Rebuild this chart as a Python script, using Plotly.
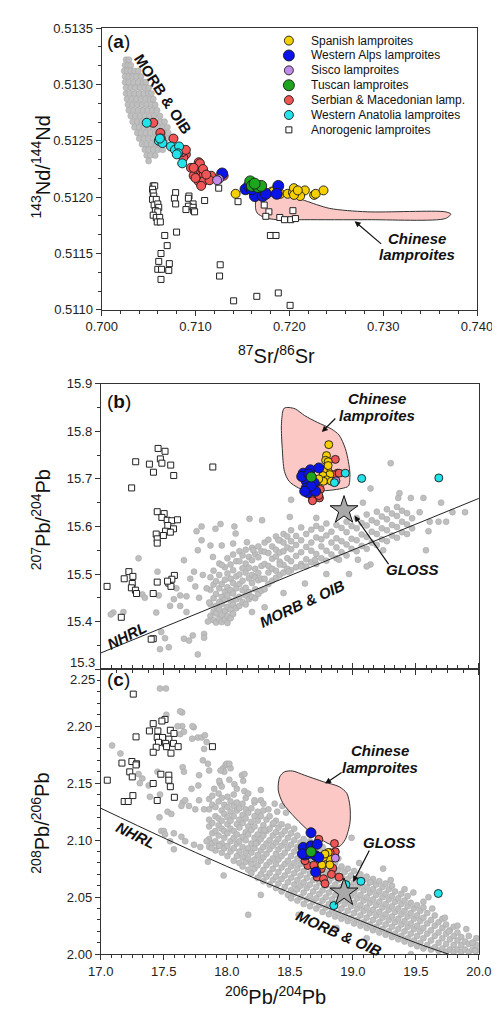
import plotly.graph_objects as go

W, H = 500, 1011
FONT = "Liberation Sans, Arial, sans-serif"

# ---------------- DATA ----------------
# Panel (a): 87Sr/86Sr vs 143Nd/144Nd
# MORB & OIB field (rows: y -> x values)
MORB_A_ROWS = [
    (0.51322, [0.7026, 0.7029]),
    (0.51317, [0.7025, 0.7028, 0.7031]),
    (0.51312, [0.7024, 0.7027, 0.7031, 0.7035, 0.7039]),
    (0.51307, [0.7025, 0.7029, 0.7033, 0.7037, 0.7042]),
    (0.51302, [0.7025, 0.7029, 0.7034, 0.7039, 0.7044, 0.7047]),
    (0.51297, [0.7026, 0.7031, 0.7036, 0.7041, 0.7046, 0.7050]),
    (0.51292, [0.7026, 0.7030, 0.7035, 0.7040, 0.7045, 0.7050, 0.7053]),
    (0.51287, [0.7027, 0.7032, 0.7037, 0.7042, 0.7047, 0.7052, 0.7055]),
    (0.51282, [0.7028, 0.7033, 0.7038, 0.7043, 0.7048, 0.7053, 0.7057]),
    (0.51277, [0.7029, 0.7034, 0.7039, 0.7044, 0.7049, 0.7054, 0.7059]),
    (0.51272, [0.7031, 0.7036, 0.7041, 0.7046, 0.7051, 0.7056, 0.7062]),
    (0.51267, [0.7033, 0.7038, 0.7043, 0.7048, 0.7053, 0.7058, 0.7063, 0.7067]),
    (0.51262, [0.7035, 0.7040, 0.7045, 0.7050, 0.7055, 0.7060, 0.7065, 0.7070]),
    (0.51257, [0.7038, 0.7042, 0.7047, 0.7052, 0.7057, 0.7062, 0.7067, 0.7071]),
    (0.51252, [0.7040, 0.7045, 0.7050, 0.7055, 0.7060, 0.7065, 0.7069]),
    (0.51247, [0.7043, 0.7048, 0.7053, 0.7058, 0.7063, 0.7067]),
    (0.51242, [0.7046, 0.7050, 0.7055, 0.7060, 0.7065]),
    (0.51237, [0.7048, 0.7052, 0.7057]),
    (0.51232, [0.7050]),
]
CHINA_A = [(0.71649, 0.51198), (0.71639, 0.51191), (0.71656, 0.51186), (0.71733, 0.51182),
           (0.71865, 0.51180), (0.72165, 0.51180), (0.72830, 0.51180), (0.73661, 0.51181),
           (0.73721, 0.51185), (0.73661, 0.51187), (0.72830, 0.51187), (0.72431, 0.51190),
           (0.72165, 0.51197), (0.72032, 0.51201), (0.71898, 0.51201), (0.71798, 0.51202),
           (0.71699, 0.51200), (0.71649, 0.51198)]
ANORO_A = [(0.70549, 0.51210), (0.70565, 0.51210), (0.70542, 0.51207), (0.70549, 0.51204),
           (0.70555, 0.51201), (0.70542, 0.51198), (0.70582, 0.51198), (0.70559, 0.51193),
           (0.70598, 0.51194), (0.70608, 0.51191), (0.70572, 0.51188), (0.70598, 0.51187),
           (0.70549, 0.51184), (0.70582, 0.51182), (0.70618, 0.51182), (0.70592, 0.51178),
           (0.70625, 0.51178), (0.70788, 0.51204), (0.70775, 0.51199), (0.70788, 0.51194),
           (0.70930, 0.51201), (0.70924, 0.51199), (0.70974, 0.51194), (0.70924, 0.51192),
           (0.70898, 0.51189), (0.70974, 0.51191), (0.70980, 0.51188), (0.70990, 0.51187),
           (0.71097, 0.51197), (0.71247, 0.51208), (0.71453, 0.51196), (0.70672, 0.51166),
           (0.70798, 0.51169), (0.70698, 0.51157), (0.70632, 0.51150), (0.70608, 0.51143),
           (0.70598, 0.51136), (0.70638, 0.51136), (0.70721, 0.51141), (0.70715, 0.51135),
           (0.70632, 0.51127), (0.71263, 0.51140), (0.71256, 0.51130), (0.71406, 0.51108),
           (0.71653, 0.51112), (0.71732, 0.51193), (0.71782, 0.51187), (0.71749, 0.51183),
           (0.71898, 0.51182), (0.71948, 0.51180), (0.72015, 0.51180), (0.72065, 0.51181),
           (0.72038, 0.51188), (0.71798, 0.51166), (0.71858, 0.51166), (0.71882, 0.51115),
           (0.72008, 0.51104)]
SPAIN_A = [(0.71427, 0.51203), (0.71815, 0.51205), (0.71905, 0.51203), (0.71982, 0.51203),
           (0.72038, 0.51204), (0.72048, 0.51208), (0.72115, 0.51204), (0.72165, 0.51206),
           (0.72115, 0.51201), (0.72264, 0.51202), (0.72281, 0.51203), (0.72364, 0.51206),
           (0.72050, 0.51202), (0.71830, 0.51205), (0.72090, 0.51206)]
WALPS_A = [(0.71284, 0.51221), (0.71533, 0.51207), (0.71570, 0.51210), (0.71633, 0.51201),
           (0.71716, 0.51201), (0.71750, 0.51203), (0.71882, 0.51210), (0.71866, 0.51203),
           (0.71600, 0.51207)]
SISCO_A = [(0.71250, 0.51216), (0.71230, 0.51215)]
TUSC_A = [(0.71583, 0.51214), (0.71600, 0.51210), (0.71666, 0.51209), (0.71700, 0.51210),
          (0.71630, 0.51212)]
SERB_A = [(0.70549, 0.51266), (0.70625, 0.51257), (0.70631, 0.51252), (0.70765, 0.51252),
          (0.70881, 0.51241), (0.70897, 0.51238), (0.70870, 0.51235), (0.70860, 0.51240),
          (0.70897, 0.51242), (0.70951, 0.51226), (0.71034, 0.51231), (0.71017, 0.51222),
          (0.71067, 0.51225), (0.71084, 0.51219), (0.70980, 0.51219), (0.71034, 0.51214),
          (0.71084, 0.51214), (0.71167, 0.51219), (0.71150, 0.51215), (0.71300, 0.51219),
          (0.71047, 0.51230), (0.70980, 0.51226), (0.71080, 0.51225), (0.71114, 0.51220),
          (0.71000, 0.51217), (0.71060, 0.51210)]
ANAT_A = [(0.70480, 0.51266), (0.70609, 0.51250), (0.70648, 0.51248), (0.70738, 0.51245),
          (0.70781, 0.51242), (0.70825, 0.51245), (0.70815, 0.51239), (0.70858, 0.51230),
          (0.70800, 0.51238), (0.70620, 0.51252)]

# Panel (b): 206Pb/204Pb vs 207Pb/204Pb  (MORB & OIB: x -> y values)
MORB_B_COLS = [
    (17.870, [15.412, 15.436, 15.467, 15.493]),
    (17.895, [15.403, 15.421, 15.449, 15.478, 15.507]),
    (17.915, [15.398, 15.417, 15.433, 15.458, 15.485]),
    (17.940, [15.406, 15.426, 15.441, 15.470, 15.498, 15.522]),
    (17.960, [15.399, 15.414, 15.437, 15.452, 15.479]),
    (17.985, [15.404, 15.423, 15.446, 15.463, 15.488, 15.514]),
    (18.005, [15.397, 15.412, 15.431, 15.455, 15.472, 15.501, 15.533]),
    (18.030, [15.407, 15.425, 15.444, 15.466, 15.490, 15.520]),
    (18.050, [15.416, 15.436, 15.459, 15.481, 15.508, 15.541]),
    (18.075, [15.428, 15.447, 15.470, 15.495, 15.527]),
    (18.100, [15.433, 15.452, 15.479, 15.499, 15.527, 15.548]),
    (18.125, [15.441, 15.466, 15.486, 15.512, 15.539]),
    (18.150, [15.436, 15.455, 15.471, 15.503, 15.522, 15.551]),
    (18.175, [15.447, 15.462, 15.491, 15.513, 15.536]),
    (18.200, [15.452, 15.481, 15.498, 15.529, 15.555]),
    (18.225, [15.449, 15.468, 15.493, 15.511, 15.542]),
    (18.250, [15.458, 15.487, 15.502, 15.535, 15.558]),
    (18.275, [15.465, 15.490, 15.517, 15.548]),
    (18.300, [15.468, 15.490, 15.521, 15.547, 15.566]),
    (18.330, [15.479, 15.503, 15.517, 15.544, 15.572]),
    (18.360, [15.486, 15.511, 15.532, 15.558]),
    (18.390, [15.492, 15.507, 15.537, 15.551, 15.579]),
    (18.420, [15.498, 15.526, 15.545, 15.571]),
    (18.450, [15.503, 15.519, 15.548, 15.566, 15.584]),
    (18.480, [15.511, 15.533, 15.556, 15.579]),
    (18.510, [15.508, 15.527, 15.552, 15.569, 15.592]),
    (18.550, [15.514, 15.538, 15.561, 15.580]),
    (18.590, [15.521, 15.546, 15.571, 15.598]),
    (18.630, [15.516, 15.531, 15.557, 15.584]),
    (18.670, [15.525, 15.549, 15.566, 15.593]),
    (18.710, [15.521, 15.542, 15.577, 15.601]),
    (18.750, [15.533, 15.558, 15.573, 15.595]),
    (18.790, [15.528, 15.549, 15.581, 15.606]),
    (18.830, [15.541, 15.566, 15.589]),
    (18.870, [15.533, 15.556, 15.575, 15.603]),
    (18.910, [15.546, 15.569, 15.597]),
    (18.950, [15.539, 15.562, 15.588, 15.610]),
    (18.990, [15.553, 15.574, 15.601]),
    (19.030, [15.548, 15.571, 15.596, 15.618]),
    (19.070, [15.559, 15.583, 15.607]),
    (19.110, [15.553, 15.578, 15.602, 15.625]),
    (19.150, [15.566, 15.589, 15.613]),
    (19.190, [15.561, 15.584, 15.608, 15.631]),
    (19.230, [15.573, 15.596, 15.621]),
    (19.270, [15.569, 15.592, 15.615, 15.636]),
    (19.310, [15.581, 15.603, 15.627]),
    (19.350, [15.576, 15.599, 15.622, 15.641]),
    (19.390, [15.588, 15.610, 15.633]),
    (19.430, [15.584, 15.604, 15.628]),
    (19.470, [15.596, 15.617]),
]
MORB_B_SPARSE = [
    (19.53, 15.63), (19.56, 15.66), (19.61, 15.61), (19.68, 15.61), (19.74, 15.61), (19.79, 15.63),
    (19.89, 15.63), (19.60, 15.59), (19.70, 15.65), (19.58, 15.55), (19.36, 15.66), (19.46, 15.66),
    (19.37, 15.67), (19.30, 15.733), (19.14, 15.68), (19.04, 15.53), (19.14, 15.52), (19.24, 15.55),
    (18.97, 15.50), (19.11, 15.516), (18.79, 15.50), (18.70, 15.53), (18.59, 15.516), (18.49, 15.505),
    (18.42, 15.52), (18.89, 15.53), (17.76, 15.59), (17.80, 15.60), (17.91, 15.595), (17.95, 15.605),
    (18.06, 15.60), (18.07, 15.585), (18.18, 15.616), (18.28, 15.613), (17.80, 15.571), (17.87, 15.56),
    (17.96, 15.56), (18.05, 15.564), (18.16, 15.567), (18.21, 15.55), (18.41, 15.571), (18.50, 15.62),
    (18.51, 15.656), (18.71, 15.618), (17.77, 15.55), (17.89, 15.536), (17.66, 15.529), (17.30, 15.533),
    (17.74, 15.505), (17.81, 15.498), (17.96, 15.519), (17.45, 15.505), (17.75, 15.474), (17.68, 15.453),
    (17.63, 15.455), (17.58, 15.447), (17.33, 15.457), (17.35, 15.45), (17.46, 15.455), (17.44, 15.419),
    (17.10, 15.419), (17.08, 15.415), (17.18, 15.42), (17.48, 15.378), (17.51, 15.365), (17.47, 15.342),
    (17.54, 15.346), (17.66, 15.364), (17.70, 15.36), (17.73, 15.371), (17.82, 15.374), (17.82, 15.366),
    (17.77, 15.331), (17.63, 15.433), (17.68, 15.42), (17.55, 15.433), (17.85, 15.40), (17.86, 15.44),
    (17.84, 15.47), (17.78, 15.45), (17.71, 15.49), (17.60, 15.47), (18.30, 15.43), (18.45, 15.46),
    (18.20, 15.42), (18.62, 15.48), (18.95, 15.64), (19.08, 15.65),
]
CHINA_B = [(18.457, 15.849), (18.445, 15.843), (18.433, 15.812), (18.440, 15.764), (18.457, 15.716),
           (18.494, 15.695), (18.569, 15.681), (18.668, 15.674), (18.817, 15.676), (18.915, 15.680),
           (18.965, 15.685), (18.977, 15.709), (18.965, 15.736), (18.940, 15.764), (18.891, 15.792),
           (18.829, 15.805), (18.717, 15.819), (18.618, 15.833), (18.544, 15.847), (18.494, 15.850),
           (18.457, 15.849)]
ANORO_B = [(17.455, 15.764), (17.510, 15.758), (17.277, 15.736), (17.473, 15.742), (17.485, 15.733),
           (17.386, 15.731), (17.555, 15.729), (17.418, 15.714), (17.579, 15.707), (17.245, 15.681),
           (17.889, 15.725), (17.448, 15.631), (17.503, 15.627), (17.485, 15.619), (17.527, 15.613),
           (17.564, 15.612), (17.609, 15.614), (17.532, 15.602), (17.577, 15.595), (17.514, 15.590),
           (17.440, 15.584), (17.497, 15.581), (17.552, 15.588), (17.448, 15.574), (17.448, 15.565),
           (17.050, 15.474), (17.186, 15.490), (17.223, 15.505), (17.255, 15.495), (17.250, 15.480),
           (17.243, 15.471), (17.275, 15.466), (17.284, 15.459), (17.448, 15.483), (17.416, 15.459),
           (17.540, 15.481), (17.557, 15.474), (17.584, 15.497), (17.564, 15.489), (17.530, 15.485),
           (17.163, 15.409), (17.416, 15.364), (17.400, 15.363)]
SPAIN_B = [(18.809, 15.772), (18.791, 15.749), (18.784, 15.739), (18.804, 15.736), (18.791, 15.723),
           (18.804, 15.716), (18.767, 15.716), (18.817, 15.709), (18.762, 15.707), (18.791, 15.698),
           (18.767, 15.695), (18.829, 15.695), (18.730, 15.700), (18.804, 15.728)]
WALPS_B = [(18.606, 15.712), (18.663, 15.719), (18.730, 15.723), (18.631, 15.695), (18.693, 15.692),
           (18.631, 15.681), (18.643, 15.671), (18.705, 15.674), (18.594, 15.705), (18.650, 15.710),
           (18.668, 15.685), (18.618, 15.674)]
SISCO_B = [(18.866, 15.696)]
TUSC_B = [(18.670, 15.704)]
SERB_B = [(18.861, 15.741), (18.878, 15.712), (18.717, 15.695), (18.742, 15.678), (18.680, 15.657),
          (18.735, 15.660), (18.730, 15.665), (18.841, 15.709), (18.693, 15.674), (18.891, 15.712),
          (18.680, 15.654)]
ANAT_B = [(18.940, 15.712), (18.854, 15.692), (19.070, 15.701), (19.682, 15.702)]
GLOSS_B = [(18.93, 15.634)]
NHRL_B = [(17.0, 15.334), (20.0, 15.659)]

# Panel (c): 206Pb/204Pb vs 208Pb/206Pb  (MORB & OIB: x -> y values)
MORB_C_COLS = [
    (17.860, [2.094, 2.101, 2.112, 2.118, 2.127, 2.136]),
    (17.885, [2.097, 2.106, 2.115, 2.131, 2.139]),
    (17.910, [2.091, 2.099, 2.108, 2.121, 2.129]),
    (17.935, [2.095, 2.104, 2.113, 2.119, 2.134, 2.141]),
    (17.960, [2.089, 2.097, 2.110, 2.117, 2.126, 2.137]),
    (17.980, [2.093, 2.102, 2.108, 2.123, 2.131]),
    (18.005, [2.086, 2.095, 2.106, 2.114, 2.120, 2.129, 2.138]),
    (18.030, [2.090, 2.099, 2.110, 2.117, 2.125, 2.134]),
    (18.055, [2.082, 2.093, 2.102, 2.108, 2.121, 2.130, 2.140]),
    (18.080, [2.086, 2.097, 2.105, 2.114, 2.126, 2.133]),
    (18.100, [2.080, 2.090, 2.099, 2.111, 2.118, 2.128]),
    (18.125, [2.077, 2.085, 2.094, 2.103, 2.115, 2.122, 2.132]),
    (18.150, [2.081, 2.089, 2.100, 2.107, 2.119, 2.127, 2.137]),
    (18.170, [2.074, 2.084, 2.093, 2.105, 2.112, 2.124]),
    (18.195, [2.071, 2.079, 2.089, 2.097, 2.109, 2.116, 2.128]),
    (18.220, [2.075, 2.083, 2.093, 2.102, 2.112, 2.121, 2.133]),
    (18.245, [2.067, 2.078, 2.087, 2.098, 2.105, 2.117, 2.125]),
    (18.270, [2.070, 2.082, 2.091, 2.101, 2.109, 2.121]),
    (18.290, [2.064, 2.074, 2.085, 2.094, 2.104, 2.113, 2.126]),
    (18.315, [2.068, 2.078, 2.088, 2.097, 2.108, 2.118]),
    (18.340, [2.061, 2.071, 2.081, 2.092, 2.100, 2.110, 2.121]),
    (18.365, [2.065, 2.075, 2.084, 2.095, 2.104, 2.114]),
    (18.390, [2.058, 2.068, 2.079, 2.088, 2.098, 2.107, 2.117]),
    (18.410, [2.062, 2.072, 2.083, 2.092, 2.101, 2.111]),
    (18.435, [2.055, 2.066, 2.076, 2.086, 2.095, 2.105, 2.114]),
    (18.460, [2.059, 2.069, 2.079, 2.089, 2.098, 2.108]),
    (18.485, [2.052, 2.063, 2.073, 2.082, 2.093, 2.102, 2.112]),
    (18.510, [2.049, 2.056, 2.067, 2.077, 2.086, 2.096, 2.106]),
    (18.535, [2.053, 2.061, 2.071, 2.080, 2.090, 2.100, 2.110]),
    (18.560, [2.047, 2.057, 2.065, 2.075, 2.084, 2.094, 2.104]),
    (18.585, [2.050, 2.060, 2.069, 2.079, 2.088, 2.098]),
    (18.610, [2.044, 2.054, 2.063, 2.073, 2.082, 2.092, 2.101]),
    (18.635, [2.048, 2.058, 2.067, 2.077, 2.086, 2.096]),
    (18.660, [2.042, 2.051, 2.061, 2.071, 2.080, 2.090, 2.099]),
    (18.685, [2.046, 2.055, 2.065, 2.075, 2.084, 2.093]),
    (18.710, [2.040, 2.049, 2.059, 2.069, 2.078, 2.088]),
    (18.735, [2.043, 2.053, 2.063, 2.072, 2.082, 2.091]),
    (18.760, [2.037, 2.047, 2.056, 2.066, 2.076, 2.085, 2.094]),
    (18.785, [2.041, 2.050, 2.060, 2.070, 2.079, 2.089]),
    (18.810, [2.035, 2.044, 2.054, 2.064, 2.073, 2.083]),
    (18.835, [2.038, 2.048, 2.058, 2.067, 2.077, 2.086]),
    (18.860, [2.033, 2.042, 2.052, 2.061, 2.071, 2.080]),
    (18.885, [2.036, 2.046, 2.055, 2.065, 2.074, 2.084]),
    (18.910, [2.031, 2.040, 2.049, 2.059, 2.068, 2.077]),
    (18.935, [2.034, 2.044, 2.053, 2.062, 2.072]),
    (18.960, [2.029, 2.038, 2.047, 2.056, 2.066, 2.075]),
    (18.985, [2.032, 2.042, 2.051, 2.060, 2.069]),
    (19.010, [2.027, 2.036, 2.045, 2.054, 2.063, 2.073]),
    (19.035, [2.030, 2.040, 2.049, 2.058, 2.067]),
    (19.060, [2.025, 2.034, 2.043, 2.052, 2.061, 2.070]),
    (19.085, [2.028, 2.038, 2.047, 2.056, 2.065]),
    (19.110, [2.023, 2.032, 2.041, 2.050, 2.059, 2.068]),
    (19.135, [2.026, 2.036, 2.045, 2.054, 2.063]),
    (19.160, [2.021, 2.030, 2.039, 2.048, 2.057, 2.066]),
    (19.185, [2.024, 2.034, 2.043, 2.052, 2.061]),
    (19.210, [2.019, 2.028, 2.037, 2.046, 2.055, 2.064]),
    (19.235, [2.022, 2.032, 2.041, 2.050, 2.059]),
    (19.260, [2.017, 2.026, 2.035, 2.044, 2.053, 2.062]),
    (19.285, [2.020, 2.030, 2.039, 2.048, 2.057]),
    (19.310, [2.015, 2.024, 2.033, 2.042, 2.051, 2.060]),
    (19.335, [2.018, 2.028, 2.037, 2.046, 2.055]),
    (19.360, [2.013, 2.022, 2.031, 2.040, 2.049]),
    (19.385, [2.016, 2.026, 2.035, 2.044, 2.053]),
    (19.410, [2.011, 2.020, 2.029, 2.038, 2.047]),
    (19.435, [2.014, 2.024, 2.033, 2.042, 2.051]),
    (19.460, [2.009, 2.018, 2.027, 2.036, 2.045]),
    (19.485, [2.012, 2.022, 2.031, 2.040]),
    (19.510, [2.007, 2.016, 2.025, 2.034, 2.043]),
    (19.535, [2.010, 2.020, 2.029, 2.038]),
    (19.560, [2.005, 2.014, 2.023, 2.032, 2.041]),
    (19.590, [2.008, 2.018, 2.027, 2.036]),
    (19.620, [2.004, 2.012, 2.021, 2.030]),
    (19.650, [2.006, 2.016, 2.025, 2.034]),
    (19.680, [2.003, 2.010, 2.019, 2.028]),
    (19.710, [2.005, 2.014, 2.023, 2.031]),
    (19.740, [2.002, 2.009, 2.018, 2.026]),
    (19.770, [2.004, 2.013, 2.021]),
    (19.800, [2.002, 2.008, 2.016, 2.024]),
    (19.830, [2.004, 2.012, 2.019]),
    (19.860, [2.002, 2.008, 2.015]),
    (19.890, [2.004, 2.011]),
    (19.920, [2.002, 2.009, 2.016]),
    (19.950, [2.004, 2.010]),
    (19.980, [2.003, 2.008]),
]
MORB_C_SPARSE = [
    (17.09, 2.183), (17.156, 2.176), (17.30, 2.158), (17.33, 2.154), (17.31, 2.150), (17.45, 2.160),
    (17.38, 2.148), (17.47, 2.140), (17.39, 2.138), (17.466, 2.120), (17.53, 2.125), (17.56, 2.123),
    (17.48, 2.108), (17.50, 2.108), (17.51, 2.105), (17.55, 2.099), (17.65, 2.133), (17.67, 2.135),
    (17.64, 2.130), (17.70, 2.130), (17.75, 2.127), (17.65, 2.164), (17.66, 2.160), (17.72, 2.145),
    (17.774, 2.148), (17.78, 2.157), (17.85, 2.167), (17.86, 2.161), (17.78, 2.135), (17.82, 2.127),
    (17.90, 2.145), (17.945, 2.150), (17.97, 2.163), (17.98, 2.160), (17.99, 2.166), (18.00, 2.167),
    (18.03, 2.163), (17.94, 2.152), (17.96, 2.147), (18.02, 2.153), (18.06, 2.149), (18.12, 2.157),
    (18.13, 2.152), (18.08, 2.145), (18.14, 2.143), (18.17, 2.141), (18.22, 2.135), (18.27, 2.135),
    (18.29, 2.132), (18.33, 2.127), (18.38, 2.132), (18.40, 2.125), (18.44, 2.130), (18.47, 2.124),
    (17.646, 2.212), (17.646, 2.200), (17.63, 2.193), (17.61, 2.200), (17.737, 2.199), (17.77, 2.190),
    (17.80, 2.190), (17.84, 2.186), (17.82, 2.180), (17.725, 2.189), (17.66, 2.195), (17.517, 2.233),
    (17.47, 2.233), (17.52, 2.210), (17.63, 2.213), (17.728, 2.200), (17.826, 2.192), (17.81, 2.170),
    (17.95, 2.161), (18.02, 2.167), (18.14, 2.158), (18.27, 2.144), (17.58, 2.106), (17.64, 2.103),
    (17.67, 2.099), (17.74, 2.096), (17.79, 2.094), (17.84, 2.099), (17.88, 2.093), (17.94, 2.095),
    (17.58, 2.092), (17.85, 2.081), (17.975, 2.069), (18.17, 2.0345), (18.27, 2.052), (18.57, 2.0345),
    (18.87, 2.023), (19.11, 2.014), (19.46, 2.000), (19.73, 2.032), (19.83, 2.025), (19.95, 2.010),
    (19.76, 2.020), (19.97, 2.003), (19.98, 2.014), (19.90, 2.022), (18.99, 2.102), (19.24, 2.075),
    (19.14, 2.063), (19.41, 2.057), (19.48, 2.054), (19.56, 2.046), (19.63, 2.040), (18.30, 2.109),
    (18.37, 2.115), (18.23, 2.097), (19.05, 2.080), (19.30, 2.065), (19.60, 2.050),
]
CHINA_C = [(18.457, 2.1599), (18.420, 2.1555), (18.408, 2.1440), (18.445, 2.1325), (18.544, 2.1195),
           (18.668, 2.1065), (18.817, 2.0964), (18.891, 2.0944), (18.940, 2.1007), (18.977, 2.1152),
           (18.977, 2.1296), (18.952, 2.1411), (18.891, 2.1469), (18.767, 2.1512), (18.618, 2.1569),
           (18.520, 2.1607), (18.457, 2.1599)]
ANORO_C = [(17.510, 2.2059), (17.485, 2.2045), (17.416, 2.2022), (17.386, 2.1958), (17.453, 2.1958),
           (17.552, 2.1964), (17.581, 2.1936), (17.280, 2.1906), (17.448, 2.1901), (17.490, 2.1901),
           (17.540, 2.1886), (17.458, 2.1858), (17.515, 2.1849), (17.577, 2.1849), (17.614, 2.1820),
           (17.440, 2.1815), (17.522, 2.1820), (17.416, 2.1771), (17.557, 2.1763), (17.886, 2.1820),
           (17.168, 2.1676), (17.247, 2.1690), (17.284, 2.1670), (17.280, 2.1660), (17.230, 2.1599),
           (17.250, 2.1555), (17.477, 2.1578), (17.540, 2.1570), (17.416, 2.1497), (17.540, 2.1526),
           (17.552, 2.1469), (17.584, 2.1376), (17.448, 2.1348), (17.255, 2.1391), (17.186, 2.1339),
           (17.218, 2.1339), (17.052, 2.1526), (17.258, 2.2281)]
SPAIN_C = [(18.754, 2.0783), (18.812, 2.0841), (18.804, 2.0892), (18.767, 2.0849), (18.779, 2.0878),
           (18.817, 2.0783)]
WALPS_C = [(18.668, 2.1065), (18.606, 2.0936), (18.668, 2.0950), (18.717, 2.0964), (18.618, 2.0869),
           (18.643, 2.0878), (18.705, 2.0864), (18.730, 2.0849), (18.705, 2.0720), (18.600, 2.0880)]
SISCO_C = [(18.861, 2.0843)]
TUSC_C = [(18.668, 2.0898)]
SERB_C = [(18.730, 2.1007), (18.854, 2.0970), (18.861, 2.0898), (18.820, 2.0890), (18.643, 2.0778),
          (18.690, 2.0780), (18.620, 2.0820), (18.717, 2.0676), (18.767, 2.0662), (18.779, 2.0618),
          (18.841, 2.0754), (18.891, 2.0676), (18.830, 2.0700), (18.750, 2.0750)]
ANAT_C = [(18.945, 2.0610), (19.064, 2.0639), (18.849, 2.0426), (19.678, 2.0532)]
GLOSS_C = [(18.93, 2.054)]
NHRL_C = [(17.0, 2.128), (17.5, 2.102), (18.0, 2.077), (18.5, 2.054), (19.0, 2.032), (19.5, 2.010),
          (19.76, 2.000)]

# Groups (legend order)
GROUP_NAMES = ["Spanish lamproites", "Western Alps lamproites", "Sisco lamproites",
               "Tuscan lamproites", "Serbian & Macedonian lamp.", "Western Anatolia lamproites",
               "Anorogenic lamproites"]
GROUP_COLORS = ["#F5CF00", "#0A14E6", "#C28BEA", "#1EA51E", "#F05555", "#22E3EA", "#FFFFFF"]

# ---------------- STYLE / LAYOUT ----------------
AX = (83, 484); AY = (13.3, 299.3)
BX = (82, 486); BY = (374.3, 664.0)
CY = (664.0, 953.3)

def dom_x(p): return [p[0] / W, p[1] / W]
def dom_y(p): return [1 - p[1] / H, 1 - p[0] / H]
def PX(x): return x / W
def PY(y): return 1 - y / H

GRAY = dict(color="#BFBFBF", size=6, line=dict(color="#A3A3A3", width=0.5))
EDGE = dict(color="#1a1a1a", width=0.9)

fig = go.Figure()

def xs(pts): return [p[0] for p in pts]
def ys(pts): return [p[1] for p in pts]

def add(pts, xa, ya, **kw):
    fig.add_trace(go.Scatter(x=xs(pts), y=ys(pts), xaxis=xa, yaxis=ya, showlegend=False,
                             hoverinfo="skip", **kw))

def colored(panel, xa, ya, sizes):
    spain, walps, sisco, tusc, serb, anat = panel
    order = [(serb, 4), (spain, 0), (walps, 1), (tusc, 3), (sisco, 2), (anat, 5)]
    for pts, gi in order:
        add(pts, xa, ya, mode="markers", name=GROUP_NAMES[gi],
            marker=dict(color=GROUP_COLORS[gi], size=sizes[gi], line=EDGE))

def field(pts, xa, ya):
    add(pts, xa, ya, mode="lines", fill="toself", fillcolor="#FBC8C6",
        line=dict(color="#333333", width=1, shape="spline", smoothing=0.8), name="Chinese lamproites")

def squares(pts, xa, ya):
    add(pts, xa, ya, mode="markers", name=GROUP_NAMES[6],
        marker=dict(symbol="square", color="white", size=6, line=dict(color="#222", width=1)))

# ---- panel a
morb_a = [(x, y) for y, row in MORB_A_ROWS for x in row]
add(morb_a, "x", "y", mode="markers", marker=GRAY, name="MORB & OIB")
field(CHINA_A, "x", "y")
squares(ANORO_A, "x", "y")
colored((SPAIN_A, WALPS_A, SISCO_A, TUSC_A, SERB_A, ANAT_A), "x", "y", [9, 11, 9, 11, 9, 9])

# ---- panel b
morb_b = [(x, y) for x, col in MORB_B_COLS for y in col] + MORB_B_SPARSE
add(morb_b, "x2", "y2", mode="markers", marker=GRAY, name="MORB & OIB")
add(NHRL_B, "x2", "y2", mode="lines", line=dict(color="#222", width=1), name="NHRL")
field(CHINA_B, "x2", "y2")
squares(ANORO_B, "x2", "y2")
colored((SPAIN_B, WALPS_B, SISCO_B, TUSC_B, SERB_B, ANAT_B), "x2", "y2", [8, 10, 8, 10, 8, 8])
add(GLOSS_B, "x2", "y2", mode="markers", name="GLOSS",
    marker=dict(symbol="star", size=21, color="#A9A9A9", line=dict(color="#111", width=1)))

# ---- panel c
morb_c = [(x, y) for x, col in MORB_C_COLS for y in col] + MORB_C_SPARSE
add(morb_c, "x3", "y3", mode="markers", marker=GRAY, name="MORB & OIB")
add(NHRL_C, "x3", "y3", mode="lines", line=dict(color="#222", width=1, shape="spline"), name="NHRL")
field(CHINA_C, "x3", "y3")
squares(ANORO_C, "x3", "y3")
colored((SPAIN_C, WALPS_C, SISCO_C, TUSC_C, SERB_C, ANAT_C), "x3", "y3", [8, 10, 8, 10, 8, 8])
add(GLOSS_C, "x3", "y3", mode="markers", name="GLOSS",
    marker=dict(symbol="star", size=21, color="#A9A9A9", line=dict(color="#111", width=1)))

# ---- legend (panel a), drawn on a pixel overlay axis
LEG_X, LEG_Y0, LEG_DY, LEG_TX = 283, 26, 15.1, 304
LEG_SIZES = [9, 11, 9, 11, 9, 9, 6]
for i, name in enumerate(GROUP_NAMES):
    sym = "square" if i == 6 else "circle"
    lw = 1 if i == 6 else 0.9
    fig.add_trace(go.Scatter(x=[LEG_X], y=[LEG_Y0 + i * LEG_DY], xaxis="x4", yaxis="y4",
                             mode="markers", showlegend=False, hoverinfo="skip", name=name,
                             marker=dict(symbol=sym, color=GROUP_COLORS[i], size=LEG_SIZES[i],
                                         line=dict(color="#1a1a1a", width=lw))))

axis_common = dict(showgrid=False, zeroline=False, showline=True, linecolor="#333", linewidth=1,
                   ticks="outside", ticklen=5, tickcolor="#333", tickwidth=1,
                   tickfont=dict(family=FONT, size=13, color="#222"))

fig.update_layout(
    width=W, height=H, margin=dict(l=0, r=0, t=0, b=0),
    paper_bgcolor="white", plot_bgcolor="rgba(0,0,0,0)", showlegend=False,
    font=dict(family=FONT, color="#111"),
    xaxis=dict(domain=dom_x(AX), range=[0.700, 0.740], anchor="y", tick0=0.70, dtick=0.01,
               tickformat=".3f", mirror=True,
               minor=dict(ticks="outside", ticklen=3, tick0=0.70, dtick=0.002, tickcolor="#333"),
               **axis_common),
    yaxis=dict(domain=dom_y(AY), range=[0.5110, 0.5135], anchor="x", tick0=0.5110, dtick=0.0005,
               tickformat=".4f", mirror=True,
               minor=dict(ticks="outside", ticklen=3, tick0=0.5110, dtick=0.0005 / 3, tickcolor="#333"),
               **axis_common),
    xaxis2=dict(domain=dom_x(BX), range=[17, 20], anchor="y2", tick0=17, dtick=0.5,
                showticklabels=False, mirror=True,
                minor=dict(ticks="outside", ticklen=3, tick0=17, dtick=0.125, tickcolor="#333"),
                **axis_common),
    yaxis2=dict(domain=dom_y(BY), range=[15.3, 15.9], anchor="x2", tickmode="array",
                tickvals=[15.3, 15.4, 15.5, 15.6, 15.7, 15.8, 15.9],
                ticktext=["", "15.4", "15.5", "15.6", "15.7", "15.8", "15.9"], mirror=True,
                minor=dict(ticks="outside", ticklen=3, tickmode="linear", tick0=15.3, dtick=0.05,
                           tickcolor="#333"),
                **axis_common),
    xaxis3=dict(domain=dom_x(BX), range=[17, 20], anchor="y3", tick0=17, dtick=0.5,
                tickformat=".1f", mirror="ticks",
                minor=dict(ticks="outside", ticklen=3, tick0=17, dtick=0.5 / 6, tickcolor="#333"),
                **axis_common),
    yaxis3=dict(domain=dom_y(CY), range=[2.0, 2.25], anchor="x3", tickmode="array",
                tickvals=[2.00, 2.05, 2.10, 2.15, 2.20, 2.25],
                ticktext=["2.00", "2.05", "2.10", "2.15", "2.20", ""], mirror=True,
                minor=dict(ticks="outside", ticklen=3, tickmode="linear", tick0=2.0, dtick=0.01,
                           tickcolor="#333"),
                **axis_common),
    xaxis4=dict(domain=[0, 1], range=[0, W], visible=False, anchor="y4", fixedrange=True),
    yaxis4=dict(domain=[0, 1], range=[H, 0], visible=False, anchor="x4", fixedrange=True),
)

ann = []
def text(x, y, s, size=15, angle=0, xanchor="center", color="#111"):
    ann.append(dict(x=PX(x), y=PY(y), xref="paper", yref="paper", text=s, showarrow=False,
                    xanchor=xanchor, yanchor="middle", textangle=angle,
                    font=dict(family=FONT, size=size, color=color)))

def arrow(xa, ya, hx, hy, dx, dy):
    ann.append(dict(x=hx, y=hy, xref=xa, yref=ya, ax=dx, ay=dy, text="", showarrow=True,
                    arrowhead=2, arrowsize=1, arrowwidth=1.2, arrowcolor="#111"))

# legend texts
for i, name in enumerate(GROUP_NAMES):
    text(LEG_TX, LEG_Y0 + i * LEG_DY, name, size=12, xanchor="left", color="#111")

# panel labels
text(101, 27, "(<b>a</b>)", size=19)
text(102, 392, "(<b>b</b>)", size=19)
text(101, 675, "(<b>c</b>)", size=19)

# axis titles
text(18, 154, "<sup>143</sup>Nd/<sup>144</sup>Nd", size=20, angle=-90)
text(270, 345, "<sup>87</sup>Sr/<sup>86</sup>Sr", size=20)
text(18, 512, "<sup>207</sup>Pb/<sup>204</sup>Pb", size=20, angle=-90)
text(18, 820, "<sup>208</sup>Pb/<sup>206</sup>Pb", size=20, angle=-90)
text(269, 995, "<sup>206</sup>Pb/<sup>204</sup>Pb", size=20)

# shifted edge tick labels
text(62, 657, "15.3", size=13, color="#222")
text(62, 674, "2.25", size=13, color="#222")

# panel a annotations
text(148, 80, "<b>MORB &amp; OIB</b>", size=15, angle=57)
text(420, 227, "<b><i>Chinese</i></b>", size=15)
text(420, 243, "<b><i>lamproites</i></b>", size=15)
arrow("x", "y", 0.72696, 0.511787, 28, 24)

# panel b annotations
text(377, 389, "<b><i>Chinese</i></b>", size=15)
text(377, 407, "<b><i>lamproites</i></b>", size=15)
arrow("x2", "y2", 18.754, 15.7985, 15, -15)
text(415, 563, "<b><i>GLOSS</i></b>", size=15)
arrow("x2", "y2", 19.014, 15.6226, 35, 50)
text(297, 597, "<b><i>MORB &amp; OIB</i></b>", size=15, angle=-25)
text(110, 630, "<b><i>NHRL</i></b>", size=15, angle=-27)

# panel c annotations
text(380, 747, "<b><i>Chinese</i></b>", size=15)
text(380, 764, "<b><i>lamproites</i></b>", size=15)
arrow("x3", "y3", 18.780, 2.1497, 18, -12)
text(390, 840, "<b><i>GLOSS</i></b>", size=15)
arrow("x3", "y3", 19.002, 2.0633, 17, -33)
text(337, 932, "<b><i>MORB &amp; OIB</i></b>", size=15, angle=24)
text(120, 833, "<b><i>NHRL</i></b>", size=15, angle=26)

fig.update_layout(annotations=ann)
fig.write_html("out.html")
